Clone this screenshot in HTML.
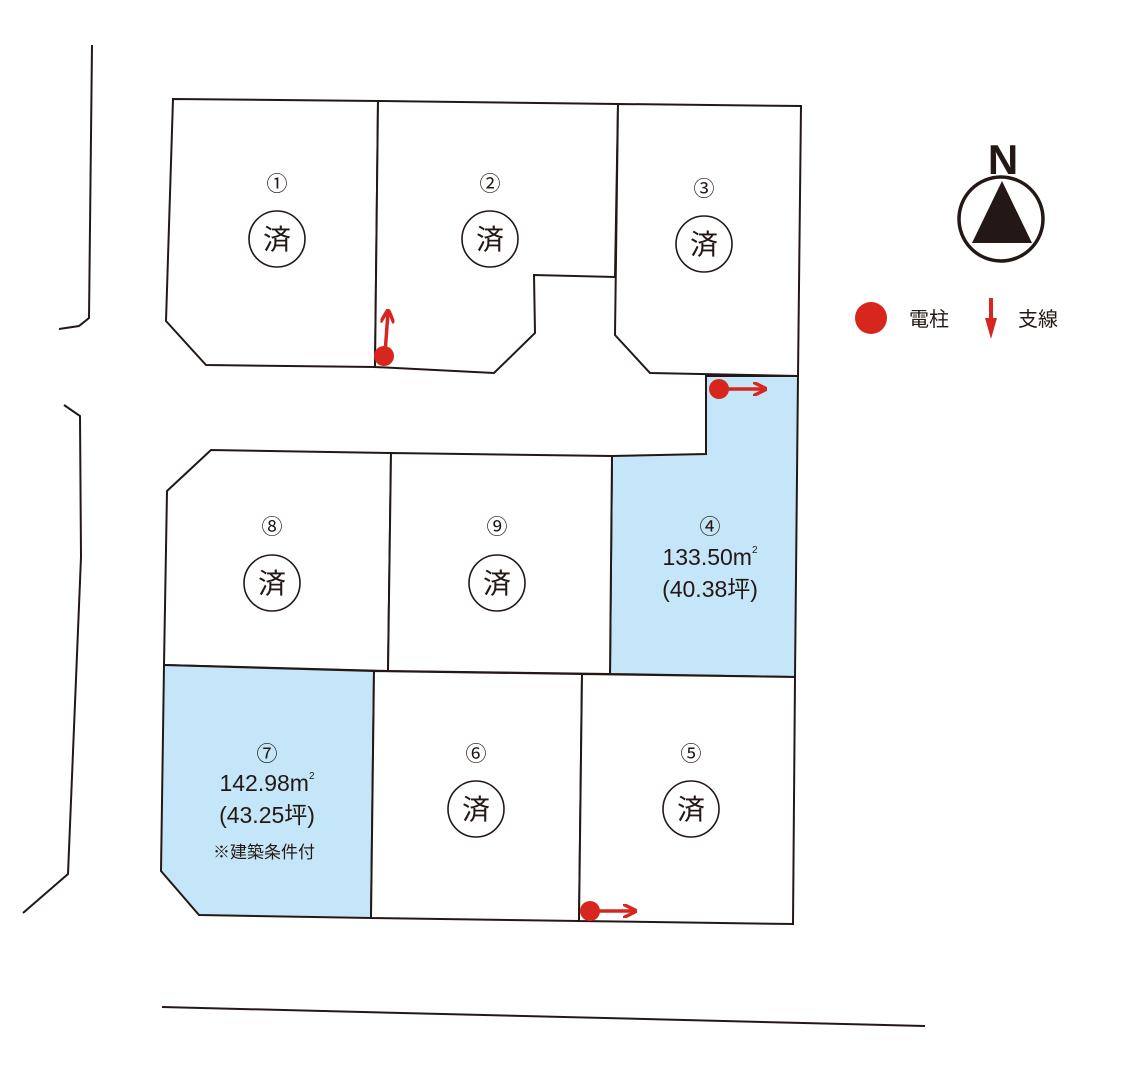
<!DOCTYPE html>
<html><head><meta charset="utf-8"><style>
html,body{margin:0;padding:0;background:#fff;}
svg{display:block;}
text{font-family:"Liberation Sans","Noto Sans CJK JP",sans-serif;fill:#231815;}
</style></head><body>
<svg width="1130" height="1087" viewBox="0 0 1130 1087" xmlns="http://www.w3.org/2000/svg">
<defs>
<marker id="ah" viewBox="0 0 10 10" refX="8" refY="5" markerWidth="4" markerHeight="4" orient="auto"><path d="M0,0 L10,5 L0,10" fill="none" stroke="#d7261e" stroke-width="2.5"/></marker>
</defs>
<g fill="#fff" stroke="#231815" stroke-width="2" stroke-linejoin="miter">
<polygon points="173,99 378,101 375,367 206,365 166,321"/>
<polygon points="378,101 618,104 615,277 534,275 535,333 494,373 375,367"/>
<polygon points="618,104 801,106 798,376 650,373 615,335"/>
<polygon points="706,376 798,376 795,677 610,674 612,456 706,454" fill="#c5e6f8"/>
<polygon points="211,450 391,453 388,671 164,665 167,491"/>
<polygon points="391,453 612,456 610,674 388,671"/>
<polygon points="164,665 374,671 371,918 199,915 161,871" fill="#c5e6f8"/>
<polygon points="374,671 582,674 579,921 371,918"/>
<polygon points="582,674 795,677 793,924 579,921"/>
</g>
<g fill="none" stroke="#231815" stroke-width="2">
<polyline points="92,45 89,318 79,326 59,329"/>
<polyline points="64,405 80,416 81,557 68,874 23,913"/>
<line x1="162" y1="1007" x2="925" y2="1026"/>
</g>
<g fill="#fff" stroke="#231815" stroke-width="1.6">
<circle cx="277" cy="239" r="28"/><circle cx="490" cy="239" r="28"/><circle cx="704" cy="244" r="28"/>
<circle cx="272" cy="583" r="28"/><circle cx="497" cy="583" r="28"/>
<circle cx="476" cy="809" r="28"/><circle cx="691" cy="809" r="28"/>
</g>
<g font-size="28" text-anchor="middle">
<text x="277" y="249">済</text><text x="490" y="249">済</text><text x="704" y="254">済</text>
<text x="272" y="593">済</text><text x="497" y="593">済</text>
<text x="476" y="819">済</text><text x="691" y="819">済</text>
</g>
<g font-size="21" text-anchor="middle">
<text x="277" y="191">①</text><text x="490" y="191">②</text><text x="704" y="196">③</text>
<text x="272" y="534">⑧</text><text x="497" y="534">⑨</text><text x="710" y="534">④</text>
<text x="267" y="761">⑦</text><text x="476" y="761">⑥</text><text x="691" y="761">⑤</text>
</g>
<g font-size="23" text-anchor="middle">
<text x="710" y="565">133.50m<tspan font-size="10" dy="-12">2</tspan></text>
<text x="710" y="597">(40.38坪)</text>
<text x="267" y="791">142.98m<tspan font-size="10" dy="-12">2</tspan></text>
<text x="267" y="823">(43.25坪)</text>
</g>
<text x="264" y="858" font-size="17" text-anchor="middle">※建築条件付</text>
<g stroke="#d7261e" stroke-width="3.5" fill="none">
<line x1="385" y1="354" x2="388" y2="312" marker-end="url(#ah)"/>
<line x1="720" y1="389" x2="764" y2="389" marker-end="url(#ah)"/>
<line x1="591" y1="911" x2="634" y2="911" marker-end="url(#ah)"/>
</g>
<g fill="#d7261e">
<circle cx="384" cy="356" r="10"/><circle cx="719" cy="389" r="10"/><circle cx="590" cy="911" r="10"/>
<circle cx="871" cy="318" r="16"/>
<rect x="989" y="298" width="4" height="22"/>
<polygon points="985,318 997,318 991,339"/>
</g>
<text x="909" y="326" font-size="20">電柱</text>
<text x="1018" y="326" font-size="20">支線</text>
<circle cx="1001" cy="219" r="42" fill="#fff" stroke="#231815" stroke-width="3.5"/>
<polygon points="972,243 1002,181 1032,243" fill="#231815"/>
<text x="1003" y="174" font-size="42" font-weight="bold" text-anchor="middle">N</text>
</svg>
</body></html>
